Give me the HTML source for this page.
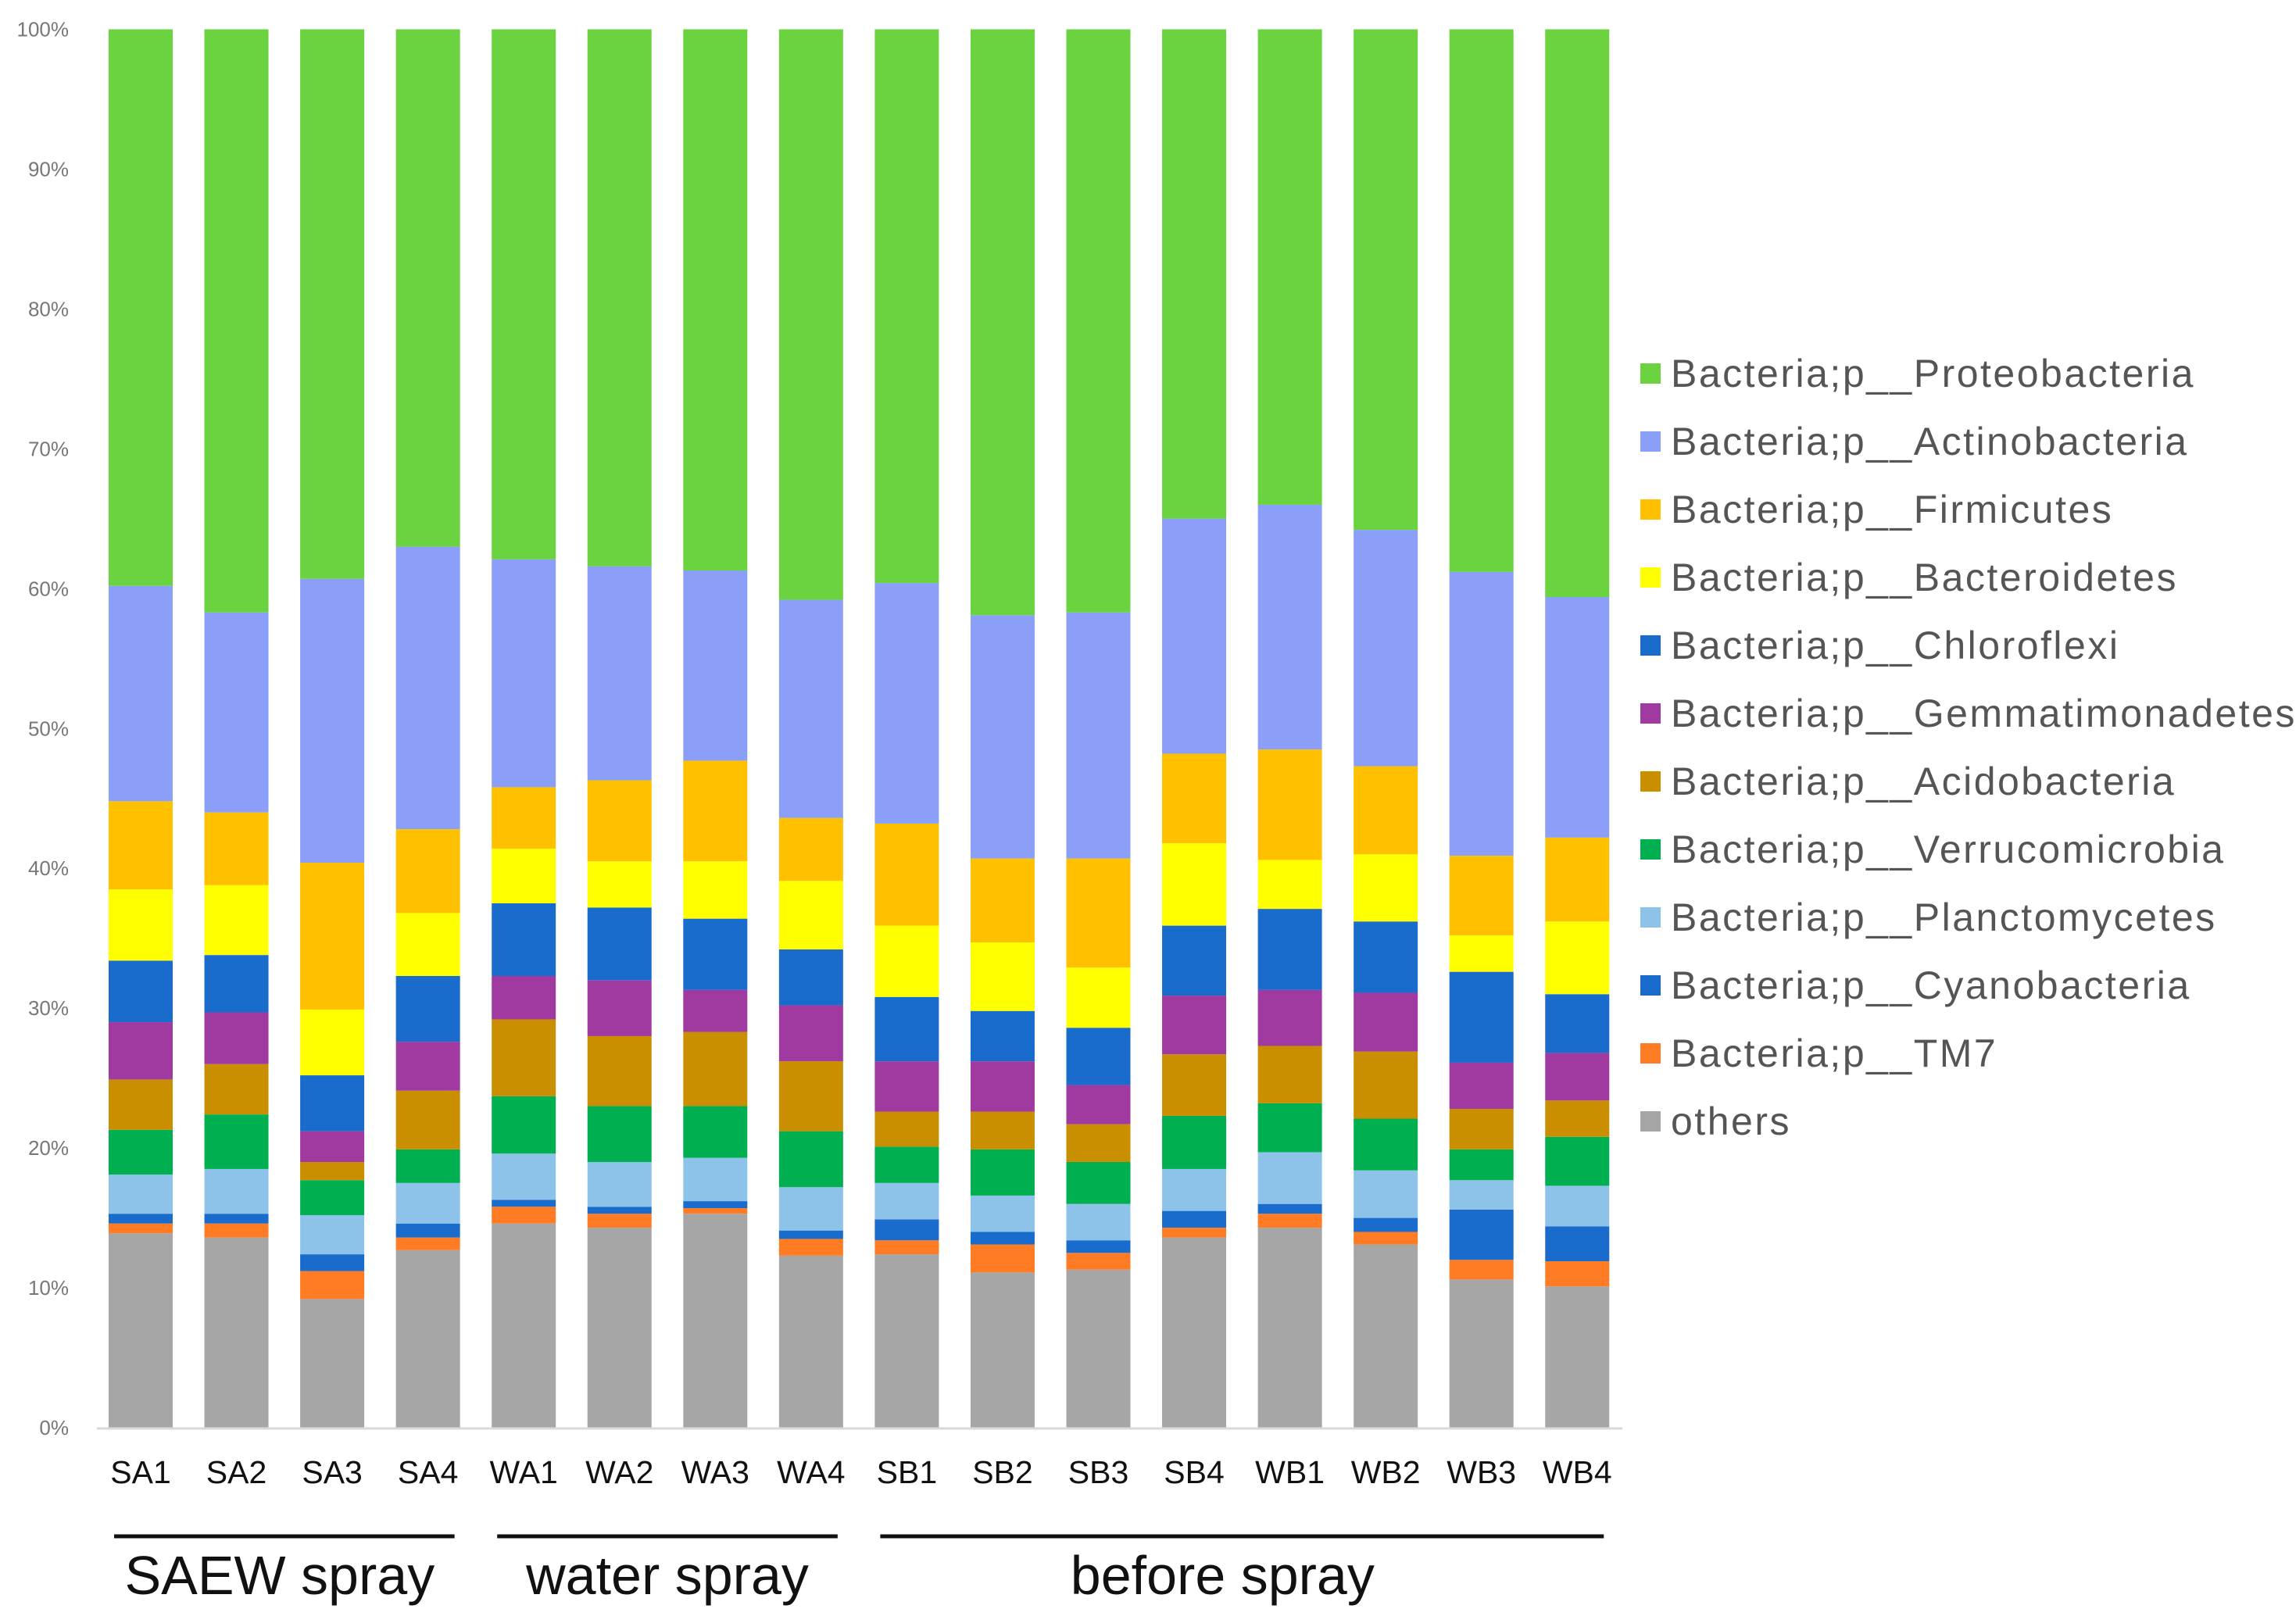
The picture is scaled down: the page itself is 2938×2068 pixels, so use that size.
<!DOCTYPE html>
<html><head><meta charset="utf-8"><style>
html,body{margin:0;padding:0;background:#fff;}
svg{display:block;}
text{font-family:"Liberation Sans",Arial,sans-serif;}
</style></head><body>
<svg id="chart" width="2938" height="2068" viewBox="0 0 2938 2068" xmlns="http://www.w3.org/2000/svg"></svg>
<script>
const categories = ["SA1","SA2","SA3","SA4","WA1","WA2","WA3","WA4","SB1","SB2","SB3","SB4","WB1","WB2","WB3","WB4"];
const seriesNames = ["others","Bacteria;p__TM7","Bacteria;p__Cyanobacteria","Bacteria;p__Planctomycetes","Bacteria;p__Verrucomicrobia","Bacteria;p__Acidobacteria","Bacteria;p__Gemmatimonadetes","Bacteria;p__Chloroflexi","Bacteria;p__Bacteroidetes","Bacteria;p__Firmicutes","Bacteria;p__Actinobacteria","Bacteria;p__Proteobacteria"];
const seriesColors = ["#a6a6a6","#ff7b24","#1a6ccc","#8dc3e9","#00b050","#c98f00","#a03aa0","#1a6ccc","#ffff00","#ffc000","#8b9ff8","#6ad33f"];
const others   = [13.9,13.6,9.2,12.7,14.6,14.3,15.3,12.3,12.4,11.1,11.3,13.6,14.3,13.1,10.6,10.1];
const tm7      = [0.7,1.0,2.0,0.9,1.2,1.0,0.4,1.2,1.0,2.0,1.2,0.7,1.0,0.9,1.4,1.8];
const cyano    = [0.7,0.7,1.2,1.0,0.5,0.5,0.5,0.6,1.5,0.9,0.9,1.2,0.7,1.0,3.6,2.5];
const plancto  = [2.8,3.2,2.8,2.9,3.3,3.2,3.1,3.1,2.6,2.6,2.6,3.0,3.7,3.4,2.1,2.9];
const verruco  = [3.2,3.9,2.5,2.4,4.1,4.0,3.7,4.0,2.6,3.3,3.0,3.8,3.5,3.7,2.2,3.5];
const acido    = [3.6,3.6,1.3,4.2,5.5,5.0,5.3,5.0,2.5,2.7,2.7,4.4,4.1,4.8,2.9,2.6];
const gemma    = [4.1,3.7,2.2,3.5,3.1,4.0,3.0,4.0,3.6,3.6,2.8,4.2,4.0,4.2,3.3,3.4];
const chloro   = [4.4,4.1,4.0,4.7,5.2,5.2,5.1,4.0,4.6,3.6,4.1,5.0,5.8,5.1,6.5,4.2];
const bactero  = [5.1,5.0,4.7,4.5,3.9,3.3,4.1,4.9,5.1,4.9,4.3,5.9,3.5,4.8,2.6,5.2];
const firmi    = [6.3,5.2,10.5,6.0,4.4,5.8,7.2,4.5,7.3,6.0,7.8,6.4,7.9,6.3,5.7,6.0];
const actino   = [15.4,14.3,20.3,20.2,16.3,15.3,13.6,15.6,17.2,17.4,17.6,16.8,17.5,16.9,20.3,17.2];
const proteo   = [39.8,41.7,39.3,37.0,37.9,38.4,38.7,40.8,39.6,41.9,41.7,35.0,34.0,35.8,38.8,40.6];
const yTicks = [0,10,20,30,40,50,60,70,80,90,100];
const groupLabels = ["SAEW spray","water spray","before spray"];
const groupStart = [0,4,8];
const groupEnd = [3,7,15];
const legendOrder = [11,10,9,8,7,6,5,4,3,2,1,0];

const seriesData = [others,tm7,cyano,plancto,verruco,acido,gemma,chloro,bactero,firmi,actino,proteo];
const NS = "http://www.w3.org/2000/svg";
const svg = document.getElementById("chart");
const y0 = 1827, y100 = 37.5;
const yScale = v => y0 - (v/100)*(y0-y100);
const xCenter = i => 180 + i*122.55;
const barW = 82;
const groupLabelShift = [-6,0,-25];
function mk(tag, attrs, parent){const e=document.createElementNS(NS,tag);for(const k in attrs)e.setAttribute(k,attrs[k]);(parent||svg).appendChild(e);return e;}

const yAxis = mk("g",{});


yTicks.forEach(t=>{
  const tx = mk("text",{x:88,y:yScale(t)+9,"text-anchor":"end","font-size":26,fill:"#777"},yAxis);
  
  
  tx.textContent = t+"%";
});
categories.forEach((c,i)=>{
  const g = mk("g",{});
  
  
  let cum = 0;
  seriesData.forEach((arr,s)=>{
    const v = arr[i];
    const yt = yScale(cum+v), yb = yScale(cum);
    const r = mk("rect",{x:xCenter(i)-barW/2,y:yt,width:barW,height:yb-yt,fill:seriesColors[s]},g);
    
    
    cum += v;
  });
  const lbl = mk("text",{x:xCenter(i),y:1898,"text-anchor":"middle","font-size":41,fill:"#111"});
  
  
  lbl.textContent = c;
});
const ax = mk("line",{x1:124,x2:2076,y1:y0+1,y2:y0+1,stroke:"#d9d9d9","stroke-width":3});


groupLabels.forEach((lab,k)=>{
  const xa = xCenter(groupStart[k])-34, xb = xCenter(groupEnd[k])+34;
  const ln = mk("line",{x1:xa,x2:xb,y1:1966,y2:1966,stroke:"#111","stroke-width":5});
  
  
  const tx = mk("text",{x:(xa+xb)/2+groupLabelShift[k],y:2040,"text-anchor":"middle","font-size":70,fill:"#111"});
  
  
  tx.textContent = lab;
});
const leg = mk("g",{});


legendOrder.forEach((s,j)=>{
  const y = 478 + j*87;
  const sq = mk("rect",{x:2099,y:y-13,width:26,height:26,fill:seriesColors[s]},leg);
  
  
  const tx = mk("text",{x:2138,y:y+17,"font-size":50,"letter-spacing":2.5,fill:"#555"},leg);
  
  
  tx.textContent = seriesNames[s];
});
</script>
</body></html>
